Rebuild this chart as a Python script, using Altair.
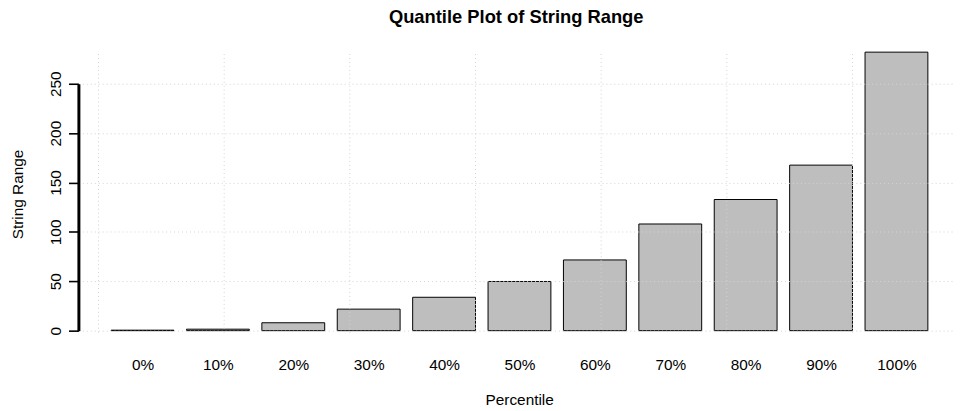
import altair as alt
import pandas as pd

# ---- data ----
chart_title = "Quantile Plot of String Range"
percentiles = ["0%", "10%", "20%", "30%", "40%", "50%", "60%", "70%", "80%", "90%", "100%"]
string_range = [0.5, 1.5, 8.0, 21.8, 33.8, 49.8, 71.6, 108.0, 132.8, 167.6, 282.0]
y_ticks = [0, 50, 100, 150, 200, 250]
grid_x = [0, 2, 4, 6, 8, 10, 12]

# R barplot geometry (bar width 1, space 0.2)
bar_width = 1.0
bar_space = 0.2

df = pd.DataFrame({"Percentile": percentiles, "value": string_range})
df["idx"] = range(len(df))
df["left"] = bar_space + df["idx"] * (bar_width + bar_space)
df["right"] = df["left"] + bar_width
mids = [bar_space + i * (bar_width + bar_space) + bar_width / 2 for i in range(len(percentiles))]

FONT = "Liberation Sans"
W, H = 882, 282.3
FS = 15.5

x_scale = alt.Scale(domain=[-0.32, 13.6], nice=False, zero=False)
# axis line spans first to last tick, as in R; plot region extends a bit beyond
y_scale = alt.Scale(domain=[y_ticks[0], y_ticks[-1]], range=[279.0, 30.0],
                    nice=False, zero=False)

label_list = "[" + ",".join("'%s'" % p for p in percentiles) + "]"
label_expr = label_list + "[round((datum.value - %g) / %g)]" % (mids[0], bar_width + bar_space)

x_axis = alt.Axis(values=mids, labelExpr=label_expr, title="Percentile",
                  grid=False, ticks=False, tickSize=0, domain=False,
                  labelFont=FONT, labelFontSize=FS, labelColor="black",
                  labelBaseline="alphabetic", labelPadding=35.7,
                  labelAlign="center", labelFlush=False, labelOverlap=False,
                  titleFont=FONT, titleFontSize=FS, titleFontWeight="normal",
                  titleColor="black", titleBaseline="alphabetic",
                  titleAlign="center", titleX=444.5, titleY=71)

y_axis = alt.Axis(values=y_ticks, title="String Range", grid=True,
                  gridColor="#D3D3D3", gridDash=[1, 3], gridWidth=1,
                  domain=True, domainColor="#000000", domainWidth=3,
                  ticks=True, tickSize=10, tickWidth=1.6,
                  tickColor="black", labelFont=FONT, labelFontSize=FS,
                  labelColor="black", labelAngle=-90, labelAlign="center",
                  labelBaseline="alphabetic", labelPadding=8.5,
                  labelFlush=False, labelOverlap=False,
                  titleFont=FONT, titleFontSize=FS, titleFontWeight="normal",
                  titleColor="black", titleAngle=-90, titleAlign="center",
                  titleBaseline="alphabetic", titleX=-56.5, titleY=141.2,
                  zindex=1)

bars = alt.Chart(df).mark_bar(fill="#BEBEBE", stroke="black", strokeWidth=1).encode(
    x=alt.X("left:Q", scale=x_scale, axis=x_axis),
    x2="right:Q",
    y=alt.Y("value:Q", scale=y_scale, axis=y_axis),
    y2=alt.datum(0),
)

vgrid = alt.Chart(pd.DataFrame({"gx": grid_x})).mark_rule(
    color="#D3D3D3", strokeDash=[1, 3], strokeWidth=1
).encode(x=alt.X("gx:Q", scale=x_scale, axis=x_axis))

title = alt.Chart(pd.DataFrame({"a": [0]})).mark_text(
    font=FONT, fontSize=18.5, fontWeight="bold", color="black",
    align="center", baseline="alphabetic"
).encode(
    x=alt.value(W / 2 + 0.5),
    y=alt.value(-31.2),
    text=alt.value(chart_title),
)

chart = alt.layer(bars, vgrid, title).properties(
    width=W,
    height=H,
    autosize=alt.AutoSizeParams(type="none"),
    padding={"left": 71, "top": 44.7, "right": 0, "bottom": 73},
    background="white",
).configure_view(stroke=None)

chart.save("out.html", embed_options={"renderer": "svg", "actions": False})
